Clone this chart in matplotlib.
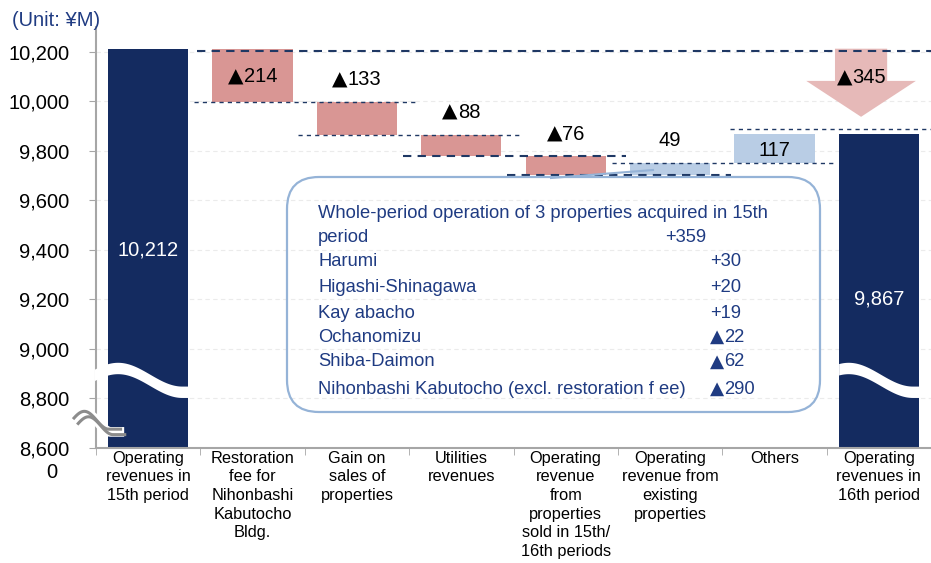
import numpy as np
import matplotlib.pyplot as plt
from matplotlib.patches import Polygon, FancyBboxPatch
from matplotlib.lines import Line2D
from matplotlib.font_manager import FontProperties
from matplotlib.textpath import TextToPath

plt.rcParams['font.family'] = ['Liberation Sans', 'DejaVu Sans']

# data (unit: JPY million)
categories = ["Operating\nrevenues in\n15th period",
              "Restoration\nfee for\nNihonbashi\nKabutocho\nBldg.",
              "Gain on\nsales of\nproperties",
              "Utilities\nrevenues",
              "Operating\nrevenue\nfrom\nproperties\nsold in 15th/\n16th periods",
              "Operating\nrevenue from\nexisting\nproperties",
              "Others",
              "Operating\nrevenues in\n16th period"]
start_value = 10212
changes = [-214, -133, -88, -76, 49, 117]
end_value = 9867
total_change = -345
y_ticks = [8600, 8800, 9000, 9200, 9400, 9600, 9800, 10000, 10200]

callout_title = ["Whole-period operation of 3 properties acquired in 15th", "period"]
callout_title_value = "+359"
callout_items = ["Harumi", "Higashi-Shinagawa", "Kay abacho", "Ochanomizu",
                 "Shiba-Daimon", "Nihonbashi Kabutocho (excl. restoration f ee)"]
callout_values = ["+30", "+20", "+19", "\u25b222", "\u25b262", "\u25b2290"]

# colours
navy = '#142B60'
neg_color = '#D99694'
pos_color = '#B9CDE5'
arrow_color = '#E6B9B8'
line_navy = '#1F3864'
text_navy = '#1F3B82'
axis_gray = '#A6A6A6'
box_blue = '#95B3D7'

W, H = 931, 563
fig = plt.figure(figsize=(W / 100, H / 100), dpi=100)
ax = fig.add_axes([96 / W, 1 - 448 / H, 835 / W, (448 - 26.9) / H])
ax.set_xlim(-0.5, 7.5)
ax.set_ylim(8600, 10300)
base = 8600
bw = 0.77
fs = 14.5

t2p = TextToPath()


def width_pt(s, family, size):
    w, h, d = t2p.get_text_width_height_descent(s, FontProperties(family=family, size=size), ismath=False)
    return w


def fmt(v):
    return ("\u25b2" if v < 0 else "") + f"{abs(v):,}"


def label(text, xy, coords='data', dx=0, dy=0, ha='center', color='black', size=fs):
    # big triangle from DejaVu, digits from Liberation
    kw = dict(xycoords=coords, textcoords='offset points', va='baseline', color=color,
              fontsize=size, zorder=6, annotation_clip=False)
    if text.startswith("\u25b2"):
        num = text[1:]
        wt = width_pt("\u25b2", 'DejaVu Sans', size)
        wn = width_pt(num, 'Liberation Sans', size)
        left = dx - (wt + wn) / 2 if ha == 'center' else dx
        ax.annotate("\u25b2", xy, xytext=(left, dy), ha='left', family='DejaVu Sans', **kw)
        ax.annotate(num, xy, xytext=(left + wt, dy), ha='left', family='Liberation Sans', **kw)
    else:
        ax.annotate(text, xy, xytext=(dx, dy), ha=ha, **kw)


# running totals
totals = [start_value]
for c in changes:
    totals.append(totals[-1] + c)

# total bars
ax.bar(0, start_value - base, bottom=base, width=bw, color=navy, zorder=2)
ax.bar(7, end_value - base, bottom=base, width=bw, color=navy, zorder=2)
ax.text(0, 9400, f"{start_value:,}", color='white', ha='center', va='center', fontsize=fs, zorder=6)
ax.text(7, 9200, f"{end_value:,}", color='white', ha='center', va='center', fontsize=fs, zorder=6)

# change bars
inside = [True, False, False, False, False, True]
for i, c in enumerate(changes):
    x = i + 1
    lo = min(totals[i], totals[i + 1])
    ax.bar(x, abs(c), bottom=lo, width=bw, color=neg_color if c < 0 else pos_color, zorder=2)
    if inside[i]:
        label(fmt(c), (x, lo + abs(c) / 2), dy=-5.2)
    else:
        label(fmt(c), (x, lo + abs(c)), dy=12)

# connector lines
ax.hlines(start_value - 10, 0.47, 7.5, colors=line_navy, linestyles=(0, (4, 3)), lw=1.5, zorder=4)
for i in range(len(changes) - 1):
    thick = i in (2, 3)
    ax.hlines(totals[i + 1], (i + 1) - 0.56, (i + 2) + 0.58, colors=line_navy,
              linestyles=(0, (4, 3)) if thick else (0, (3, 3)),
              lw=1.5 if thick else 1.0, zorder=4)
ax.hlines(end_value + 20, 6 - 0.43, 7.5, colors=line_navy, linestyles=(0, (3, 3)), lw=1.0, zorder=4)

# total change arrow
ac = 7 - 0.17
tip = end_value + 70
head = tip + 145
arrow = Polygon([(ac - 0.25, start_value), (ac + 0.25, start_value), (ac + 0.25, head),
                 (ac + 0.525, head), (ac, tip), (ac - 0.525, head), (ac - 0.25, head)],
                closed=True, facecolor=arrow_color, edgecolor='none', zorder=3)
ax.add_patch(arrow)
label(fmt(total_change), (ac, head + 20), dy=-5.2)


# broken-axis waves through the total bars
def wave(xc, u_start):
    u = np.linspace(u_start, 1, 200)
    arg = np.minimum(np.pi * (u - 0.12) / 0.8, np.pi)
    mid = 8875 + 48 * np.cos(arg)
    xs = xc - bw / 2 + u * bw
    ax.fill_between(xs, mid - 23, mid + 23, color='white', lw=0, zorder=3, clip_on=False)


wave(0, -0.17)
wave(7, 0.0)

# axis break mark
t = np.linspace(0, 1, 100)
for dx, dy, col, lw in [(0.02, -11, 'white', 7), (0, 0, '#8C8C8C', 2.2), (0.04, -22, '#8C8C8C', 2.2)]:
    xs = -0.72 + dx + t * 0.47
    ys = 8712 + dy + 36 * np.cos(np.minimum(np.pi * (t - 0.23) / 0.5, np.pi))
    ax.plot(xs, ys, color=col, lw=lw, zorder=5, clip_on=False, solid_capstyle='butt')

# axes styling
ax.set_yticks(y_ticks)
ax.set_yticklabels([f"{v:,}" for v in y_ticks])
ax.tick_params(axis='y', labelsize=fs, length=5, color=axis_gray, pad=14)
ax.set_xticks(range(len(categories)))
ax.set_xticklabels(categories, fontsize=11.8, linespacing=1.3)
ax.tick_params(axis='x', length=0, pad=2)
ax.set_xticks(np.arange(-0.5, 8, 1), minor=True)
ax.tick_params(axis='x', which='minor', length=5, color=axis_gray)
ax.grid(axis='y', color='#EBEBEB', linestyle=(0, (4, 3)), lw=0.8, zorder=0)
ax.set_axisbelow(True)
for s in ['top', 'right']:
    ax.spines[s].set_visible(False)
for s in ['left', 'bottom']:
    ax.spines[s].set_color(axis_gray)
    ax.spines[s].set_linewidth(1.5)

fig.text(12 / W, 1 - 21 / H, "(Unit: \u00a5M)", color=text_navy, fontsize=14.5, va='center')
fig.text(52 / W, 1 - 472 / H, "0", fontsize=fs, ha='center', va='center')

# callout box
box = FancyBboxPatch((2.87, 1.51), 5.33, 2.35, boxstyle="round,pad=0,rounding_size=0.32",
                     transform=fig.dpi_scale_trans, facecolor='none', edgecolor=box_blue, lw=1.6)
fig.add_artist(box)
fig.add_artist(Line2D([551 / W, 653 / W], [1 - 178 / H, 1 - 170 / H], transform=fig.transFigure,
                      color=box_blue, lw=1.5))

cfs = 13.2
fig.text(318 / W, 1 - 218.5 / H, callout_title[0], color=text_navy, fontsize=cfs, va='baseline')
fig.text(318 / W, 1 - 241.5 / H, callout_title[1], color=text_navy, fontsize=cfs, va='baseline')
label(callout_title_value, (665, H - 241.5), coords='figure pixels', ha='left', color=text_navy, size=cfs)
row_y = [260, 285, 311, 335, 360, 387]
for name, val, yy in zip(callout_items, callout_values, row_y):
    fig.text(318 / W, 1 - (yy + 6.5) / H, name, color=text_navy, fontsize=cfs, va='baseline')
    label(val, (710, H - yy - 6.5), coords='figure pixels', ha='left', color=text_navy, size=cfs)

fig.savefig("out.png", dpi=100)
